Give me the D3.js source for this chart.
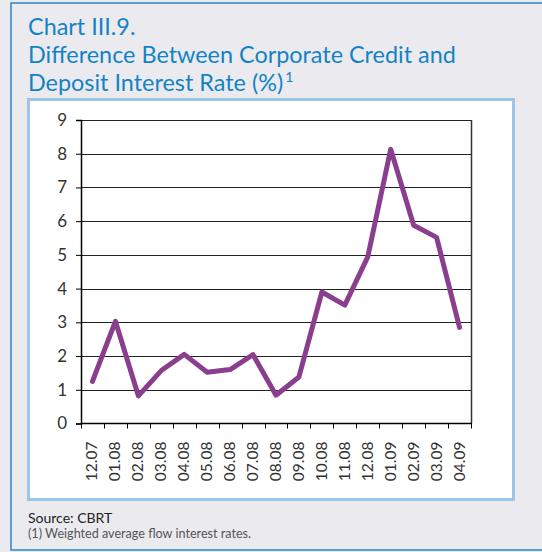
<!DOCTYPE html>
<html>
<head>
<meta charset="utf-8">
<script src="https://cdn.jsdelivr.net/npm/d3@7"></script>
<style>
  html, body { margin: 0; padding: 0; background: #ebebef; }
  svg { display: block; }
</style>
</head>
<body>
<svg id="chart" width="542" height="552"></svg>
<script>
// Monthly spread between corporate credit and deposit rates (%)
const months = ["12.07","01.08","02.08","03.08","04.08","05.08","06.08","07.08","08.08",
                "09.08","10.08","11.08","12.08","01.09","02.09","03.09","04.09"];
const spread = [1.25, 3.03, 0.82, 1.57, 2.05, 1.52, 1.60, 2.04, 0.84,
                1.38, 3.90, 3.51, 4.94, 8.13, 5.88, 5.52, 2.85];
const yTicks = [0,1,2,3,4,5,6,7,8,9];
const titleLines = ["Chart III.9.", "Difference Between Corporate Credit and", "Deposit Interest Rate (%)"];
const footnotes = ["Source: CBRT", "(1) Weighted average flow interest rates."];

const svg = d3.select("#chart");
const titleFont = "Lato, 'Noto Sans', sans-serif";
const bodyFont = "Lato, 'Noto Sans', sans-serif";

// outer frame
svg.append("rect").attr("x", 11).attr("y", 3).attr("width", 560).attr("height", 547)
  .attr("fill", "#ebebef").attr("stroke", "#2b87c6").attr("stroke-width", 1.5);

// title block
const tg = svg.append("g").attr("fill", "#1383c6").attr("font-family", titleFont);
const baselines = [35, 63, 91];
const tLines = tg.selectAll("text").data(titleLines).join("text")
  .attr("x", 28).attr("y", (d, i) => baselines[i])
  .attr("font-size", 21).text(d => d);
// size the title so the long line spans the intended block width
const w2 = tLines.nodes()[1].getComputedTextLength();
const fs = 21 * 428 / w2;
tLines.attr("font-size", fs);
const w3 = tLines.nodes()[2].getComputedTextLength();
tg.append("text").attr("x", 28 + w3 + 2).attr("y", baselines[2] - 9)
  .attr("font-size", fs * 0.6).text("1");

// white chart panel
svg.append("rect").attr("x", 28.5).attr("y", 99.5).attr("width", 485).attr("height", 400)
  .attr("fill", "#fff").attr("stroke", "#9ec4e8").attr("stroke-width", 3);

// plot area
const plotL = 81, plotR = 471, plotT = 120, plotB = 423.5;
const x = d3.scaleBand().domain(months).range([plotL, plotR]);
const y = d3.scaleLinear().domain([0, 9]).range([plotB, plotT]);

// horizontal gridlines
svg.append("g").selectAll("line").data(yTicks.filter(v => v > 0)).join("line")
  .attr("x1", plotL).attr("x2", plotR)
  .attr("y1", d => Math.round(y(d)) + 0.5).attr("y2", d => Math.round(y(d)) + 0.5)
  .attr("stroke", "#222").attr("stroke-width", 1);

// right border of plot
svg.append("line").attr("x1", plotR + 0.5).attr("x2", plotR + 0.5)
  .attr("y1", plotT).attr("y2", plotB).attr("stroke", "#333").attr("stroke-width", 1.5);

// y axis
const yAxis = svg.append("g").attr("transform", `translate(${plotL},0)`)
  .call(d3.axisLeft(y).tickValues(yTicks).tickSize(5).tickPadding(9).tickFormat(d3.format("d")));
yAxis.select(".domain").attr("stroke", "#000").attr("stroke-width", 1.5);
yAxis.selectAll(".tick line").attr("stroke", "#000");
yAxis.selectAll("text").attr("font-family", bodyFont).attr("font-size", 17).attr("fill", "#333");

// x axis: ticks fall on category boundaries
const boundaries = d3.range(months.length + 1).map(i => plotL + i * x.step());
const xg = svg.append("g");
xg.append("line").attr("x1", plotL).attr("x2", plotR + 1)
  .attr("y1", plotB).attr("y2", plotB).attr("stroke", "#000").attr("stroke-width", 1.5);
xg.selectAll("line.tk").data(boundaries).join("line").attr("class", "tk")
  .attr("x1", d => Math.round(d) + 0.5).attr("x2", d => Math.round(d) + 0.5)
  .attr("y1", plotB).attr("y2", plotB + 5).attr("stroke", "#000");
xg.selectAll("text").data(months).join("text")
  .attr("transform", d => `translate(${x(d) + x.bandwidth() / 2 + 5},${plotB + 18}) rotate(-90)`)
  .attr("text-anchor", "end")
  .attr("font-family", bodyFont).attr("font-size", 15.5).attr("fill", "#333")
  .text(d => d);

// series line
const line = d3.line()
  .x((d, i) => x(months[i]) + x.bandwidth() / 2)
  .y(d => y(d));
svg.append("path").datum(spread).attr("d", line)
  .attr("fill", "none").attr("stroke", "#8a3f8e").attr("stroke-width", 5)
  .attr("stroke-linejoin", "round").attr("stroke-linecap", "round");

// source & footnote
svg.append("text").attr("x", 28).attr("y", 523).attr("font-family", bodyFont)
  .attr("font-size", 14).attr("fill", "#222").text(footnotes[0]);
svg.append("text").attr("x", 28).attr("y", 538).attr("font-family", bodyFont)
  .attr("font-size", 12.6).attr("fill", "#555").text(footnotes[1]);
</script>
</body>
</html>
